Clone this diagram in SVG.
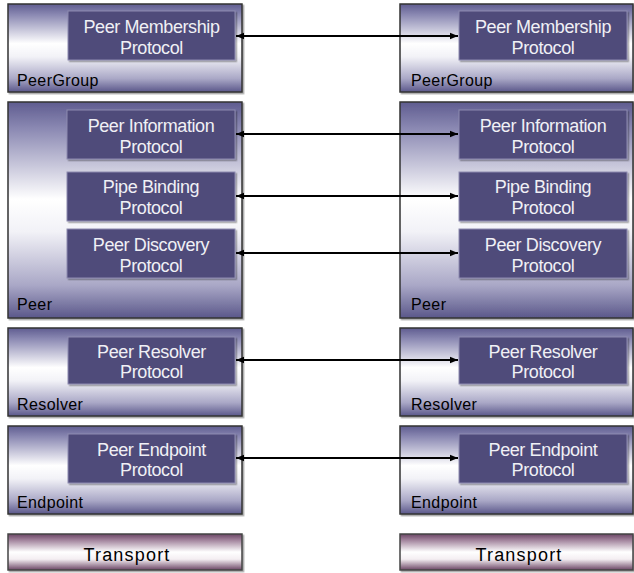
<svg xmlns="http://www.w3.org/2000/svg" width="634" height="573" viewBox="0 0 634 573">
<defs>
<linearGradient id="outer" x1="0" y1="0" x2="0" y2="1">
<stop offset="0" stop-color="#5f5c90"/>
<stop offset="0.12" stop-color="#8a88b2"/>
<stop offset="0.45" stop-color="#ffffff"/>
<stop offset="0.6" stop-color="#f2f2f7"/>
<stop offset="0.85" stop-color="#a9a7c6"/>
<stop offset="1" stop-color="#5a578a"/>
</linearGradient>
<linearGradient id="trans" x1="0" y1="0" x2="0" y2="1">
<stop offset="0" stop-color="#6a4464"/>
<stop offset="0.15" stop-color="#9c7c96"/>
<stop offset="0.5" stop-color="#ffffff"/>
<stop offset="0.7" stop-color="#f4eef2"/>
<stop offset="1" stop-color="#6a4464"/>
</linearGradient>
<marker id="ah" viewBox="0 0 10 10" refX="10" refY="5" markerWidth="5" markerHeight="4" orient="auto-start-reverse" markerUnits="strokeWidth">
<path d="M0,1 L10,5 L0,9 z" fill="#000"/>
</marker>
<filter id="sh" x="-5%" y="-5%" width="110%" height="115%">
<feDropShadow dx="1.5" dy="1.5" stdDeviation="0.6" flood-color="#000" flood-opacity="0.35"/>
</filter>
</defs>
<style>
.outer{fill:url(#outer);stroke:#333;stroke-width:1.5;filter:url(#sh)}
.trans{fill:url(#trans);stroke:#444;stroke-width:1.5;filter:url(#sh)}
.proto{fill:#4f4b7a;stroke:#8e8cb0;stroke-width:1;filter:url(#sh)}
.pt{font-family:"Liberation Sans",Arial,sans-serif;font-size:18px;fill:#f0f0f5;text-anchor:middle;letter-spacing:-0.4px}
.lbl{font-family:"Liberation Sans",Arial,sans-serif;font-size:16px;fill:#000;letter-spacing:0.4px}
.tt{font-family:"Liberation Sans",Arial,sans-serif;font-size:18px;fill:#000;text-anchor:middle;letter-spacing:1.2px}
.conn{stroke:#000;stroke-width:2;fill:none;marker-start:url(#ah);marker-end:url(#ah)}
</style>

<g id="left-peergroup">
<rect class="outer" x="8" y="4" width="234" height="88"/>
<text class="lbl" x="17" y="86">PeerGroup</text>
</g>
<g id="left-pmp">
<rect class="proto" x="68" y="11" width="167" height="49"/>
<text class="pt" x="151.5" y="33">Peer Membership</text>
<text class="pt" x="151.5" y="53.5">Protocol</text>
</g>
<g id="left-peer">
<rect class="outer" x="8" y="102" width="234" height="216"/>
<text class="lbl" x="17" y="310">Peer</text>
</g>
<g id="left-pip">
<rect class="proto" x="67" y="110" width="168" height="49"/>
<text class="pt" x="151" y="132">Peer Information</text>
<text class="pt" x="151" y="152.5">Protocol</text>
</g>
<g id="left-pbp">
<rect class="proto" x="67" y="172" width="168" height="49"/>
<text class="pt" x="151" y="193">Pipe Binding</text>
<text class="pt" x="151" y="213.5">Protocol</text>
</g>
<g id="left-pdp">
<rect class="proto" x="67" y="229" width="168" height="49"/>
<text class="pt" x="151" y="251">Peer Discovery</text>
<text class="pt" x="151" y="271.5">Protocol</text>
</g>
<g id="left-resolver">
<rect class="outer" x="8" y="328" width="234" height="88"/>
<text class="lbl" x="17" y="410">Resolver</text>
</g>
<g id="left-prp">
<rect class="proto" x="68" y="337" width="167" height="47"/>
<text class="pt" x="151.5" y="358">Peer Resolver</text>
<text class="pt" x="151.5" y="378">Protocol</text>
</g>
<g id="left-endpoint">
<rect class="outer" x="8" y="426" width="234" height="88"/>
<text class="lbl" x="17" y="508">Endpoint</text>
</g>
<g id="left-pep">
<rect class="proto" x="68" y="434" width="167" height="49"/>
<text class="pt" x="151.5" y="456">Peer Endpoint</text>
<text class="pt" x="151.5" y="476">Protocol</text>
</g>
<g id="left-transport">
<rect class="trans" x="8" y="534" width="234" height="36"/>
<text class="tt" x="127" y="561">Transport</text>
</g>

<g id="right-peergroup">
<rect class="outer" x="400" y="4" width="233" height="88"/>
<text class="lbl" x="411" y="86">PeerGroup</text>
</g>
<g id="right-pmp">
<rect class="proto" x="459" y="11" width="168" height="49"/>
<text class="pt" x="543" y="33">Peer Membership</text>
<text class="pt" x="543" y="53.5">Protocol</text>
</g>
<g id="right-peer">
<rect class="outer" x="400" y="102" width="233" height="216"/>
<text class="lbl" x="411" y="310">Peer</text>
</g>
<g id="right-pip">
<rect class="proto" x="459" y="110" width="168" height="49"/>
<text class="pt" x="543" y="132">Peer Information</text>
<text class="pt" x="543" y="152.5">Protocol</text>
</g>
<g id="right-pbp">
<rect class="proto" x="459" y="172" width="168" height="49"/>
<text class="pt" x="543" y="193">Pipe Binding</text>
<text class="pt" x="543" y="213.5">Protocol</text>
</g>
<g id="right-pdp">
<rect class="proto" x="459" y="229" width="168" height="49"/>
<text class="pt" x="543" y="251">Peer Discovery</text>
<text class="pt" x="543" y="271.5">Protocol</text>
</g>
<g id="right-resolver">
<rect class="outer" x="400" y="328" width="233" height="88"/>
<text class="lbl" x="411" y="410">Resolver</text>
</g>
<g id="right-prp">
<rect class="proto" x="459" y="337" width="168" height="47"/>
<text class="pt" x="543" y="358">Peer Resolver</text>
<text class="pt" x="543" y="378">Protocol</text>
</g>
<g id="right-endpoint">
<rect class="outer" x="400" y="426" width="233" height="88"/>
<text class="lbl" x="411" y="508">Endpoint</text>
</g>
<g id="right-pep">
<rect class="proto" x="459" y="434" width="168" height="49"/>
<text class="pt" x="543" y="456">Peer Endpoint</text>
<text class="pt" x="543" y="476">Protocol</text>
</g>
<g id="right-transport">
<rect class="trans" x="400" y="534" width="233" height="36"/>
<text class="tt" x="519" y="561">Transport</text>
</g>

<g id="connectors">
<line class="conn" x1="236" y1="36" x2="458" y2="36"/>
<line class="conn" x1="236" y1="134" x2="458" y2="134"/>
<line class="conn" x1="236" y1="196" x2="458" y2="196"/>
<line class="conn" x1="236" y1="253" x2="458" y2="253"/>
<line class="conn" x1="236" y1="360" x2="458" y2="360"/>
<line class="conn" x1="236" y1="458" x2="458" y2="458"/>
</g>
</svg>
